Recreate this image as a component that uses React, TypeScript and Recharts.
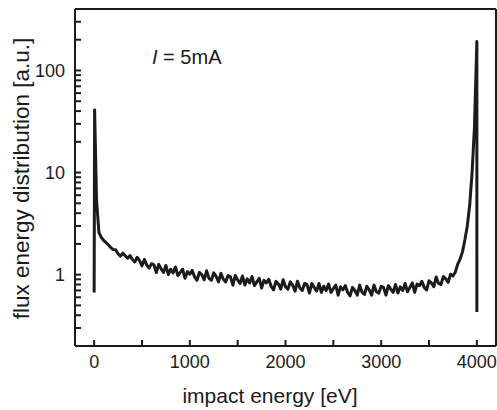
import React from 'react';
import { ComposedChart, Line, XAxis, YAxis, CartesianGrid } from 'recharts';

// impact energy [eV] sampled along the spectrum
const ENERGY = [
  0, 5, 25, 50, 75, 100, 125, 150, 175, 200,
  225, 250, 275, 300, 325, 350, 375, 400,
  425, 450, 475, 500, 525, 550, 575, 600,
  625, 650, 675, 700, 725, 750, 775, 800,
  825, 850, 875, 900, 925, 950, 975, 1000,
  1025, 1050, 1075, 1100, 1125, 1150, 1175, 1200,
  1225, 1250, 1275, 1300, 1325, 1350, 1375, 1400,
  1425, 1450, 1475, 1500, 1525, 1550, 1575, 1600,
  1625, 1650, 1675, 1700, 1725, 1750, 1775, 1800,
  1825, 1850, 1875, 1900, 1925, 1950, 1975, 2000,
  2025, 2050, 2075, 2100, 2125, 2150, 2175, 2200,
  2225, 2250, 2275, 2300, 2325, 2350, 2375, 2400,
  2425, 2450, 2475, 2500, 2525, 2550, 2575, 2600,
  2625, 2650, 2675, 2700, 2725, 2750, 2775, 2800,
  2825, 2850, 2875, 2900, 2925, 2950, 2975, 3000,
  3025, 3050, 3075, 3100, 3125, 3150, 3175, 3200,
  3225, 3250, 3275, 3300, 3325, 3350, 3375, 3400,
  3425, 3450, 3475, 3500, 3525, 3550, 3575, 3600,
  3625, 3650, 3675, 3700, 3725, 3750, 3775, 3800,
  3825, 3850, 3875, 3900, 3925, 3950, 3975, 4000, 4000,
];

// flux energy distribution [a.u.]
const FLUX = [
  0.67, 41, 5.4, 2.58, 2.32, 2.16, 2.06, 1.95, 1.84, 1.76,
  1.75, 1.6, 1.52, 1.62, 1.53, 1.45, 1.54, 1.41,
  1.33, 1.48, 1.37, 1.22, 1.41, 1.24, 1.16, 1.28,
  1.25, 1.05, 1.26, 1.14, 1.05, 1.23, 1.0, 1.13,
  1.04, 1.19, 0.98, 1.05, 1.13, 0.92, 1.07, 1.01,
  1.1, 0.95, 0.88, 1.05, 1.0, 0.89, 1.09, 0.92,
  0.88, 1.04, 0.96, 0.85, 1.03, 0.9, 0.85, 0.98,
  0.95, 0.79, 0.98, 0.89, 0.82, 0.97, 0.79, 0.91,
  0.83, 0.96, 0.78, 0.85, 0.92, 0.74, 0.88, 0.83,
  0.9, 0.77, 0.71, 0.86, 0.81, 0.72, 0.89, 0.76,
  0.72, 0.85, 0.79, 0.69, 0.86, 0.74, 0.7, 0.82,
  0.8, 0.66, 0.82, 0.75, 0.69, 0.82, 0.67, 0.77,
  0.7, 0.81, 0.67, 0.73, 0.79, 0.63, 0.76, 0.71,
  0.78, 0.67, 0.62, 0.75, 0.7, 0.63, 0.79, 0.67,
  0.64, 0.77, 0.71, 0.63, 0.79, 0.68, 0.66, 0.77,
  0.75, 0.63, 0.78, 0.72, 0.67, 0.8, 0.66, 0.76,
  0.7, 0.82, 0.68, 0.75, 0.83, 0.67, 0.81, 0.78,
  0.86, 0.75, 0.71, 0.87, 0.83, 0.76, 0.95, 0.82,
  0.8, 0.96, 0.91, 0.84, 1.01, 0.97, 1.06, 1.27,
  1.42, 1.68, 2.2, 3.0, 4.8, 10, 28, 192, 0.43,
];

const X_DOMAIN = [-200, 4200];
const Y_DOMAIN = [0.2, 400];
const X_MAJOR = [0, 1000, 2000, 3000, 4000];
const X_MARKS = [0, 500, 1000, 1500, 2000, 2500, 3000, 3500, 4000];
const Y_MAJOR = [1, 10, 100];
const Y_MARKS = [
  0.3, 0.4, 0.5, 0.6, 0.7, 0.8, 0.9,
  1, 2, 3, 4, 5, 6, 7, 8, 9,
  10, 20, 30, 40, 50, 60, 70, 80, 90,
  100, 200, 300,
];

const data = ENERGY.map((e, i) => ({ e, f: FLUX[i] }));

const W = 497;
const H = 410;
const FONT = '"Liberation Sans", Arial, sans-serif';
const INK = '#1c1a1b';
const edge = { stroke: INK, strokeWidth: 2 };

export default function App() {
  return (
    <div style={{ position: 'absolute', left: 0, top: 0, width: W, height: H, background: '#fff' }}>
      <ComposedChart width={W} height={H} data={data} margin={{ top: 9, right: 1, bottom: 0, left: 0 }}>
        {/* top and right sides of the frame */}
        <CartesianGrid
          xAxisId="x"
          yAxisId="y"
          stroke={INK}
          strokeWidth={2}
          horizontalCoordinatesGenerator={({ offset }: any) => [offset.top]}
          verticalCoordinatesGenerator={({ offset }: any) => [offset.left + offset.width]}
        />
        <XAxis
          xAxisId="x"
          dataKey="e"
          type="number"
          domain={X_DOMAIN}
          allowDataOverflow
          ticks={X_MARKS}
          interval={0}
          height={64}
          tickSize={-6}
          tickMargin={15}
          tickLine={edge}
          axisLine={edge}
          tickFormatter={(v: number) => (X_MAJOR.includes(v) ? String(v) : '')}
          tick={{ fill: INK, fontSize: 18, fontFamily: FONT }}
          label={{
            content: () => (
              <text x={270} y={403} textAnchor="middle" fontSize={21} fontFamily={FONT} fill={INK}>
                impact energy [eV]
              </text>
            ),
          }}
        />
        <YAxis
          yAxisId="y"
          dataKey="f"
          scale="log"
          type="number"
          domain={Y_DOMAIN}
          allowDataOverflow
          ticks={Y_MARKS}
          interval={0}
          width={75}
          tickSize={-6}
          tickMargin={16}
          tickLine={edge}
          axisLine={edge}
          tickFormatter={(v: number) => (Y_MAJOR.includes(v) ? String(v) : '')}
          tick={{ fill: INK, fontSize: 18, fontFamily: FONT }}
          label={{
            content: () => (
              <text transform="translate(29,178.5) rotate(-90)" textAnchor="middle" fontSize={22.5} fontFamily={FONT} fill={INK}>
                flux energy distribution [a.u.]
              </text>
            ),
          }}
        />
        <Line
          xAxisId="x"
          yAxisId="y"
          dataKey="f"
          type="linear"
          stroke={INK}
          strokeWidth={3}
          strokeLinejoin="round"
          dot={false}
          isAnimationActive={false}
        />
        <text x={152} y={64} fontSize={20} fontFamily={FONT} fill={INK}>
          <tspan fontStyle="italic">I</tspan> = 5mA
        </text>
      </ComposedChart>
    </div>
  );
}
